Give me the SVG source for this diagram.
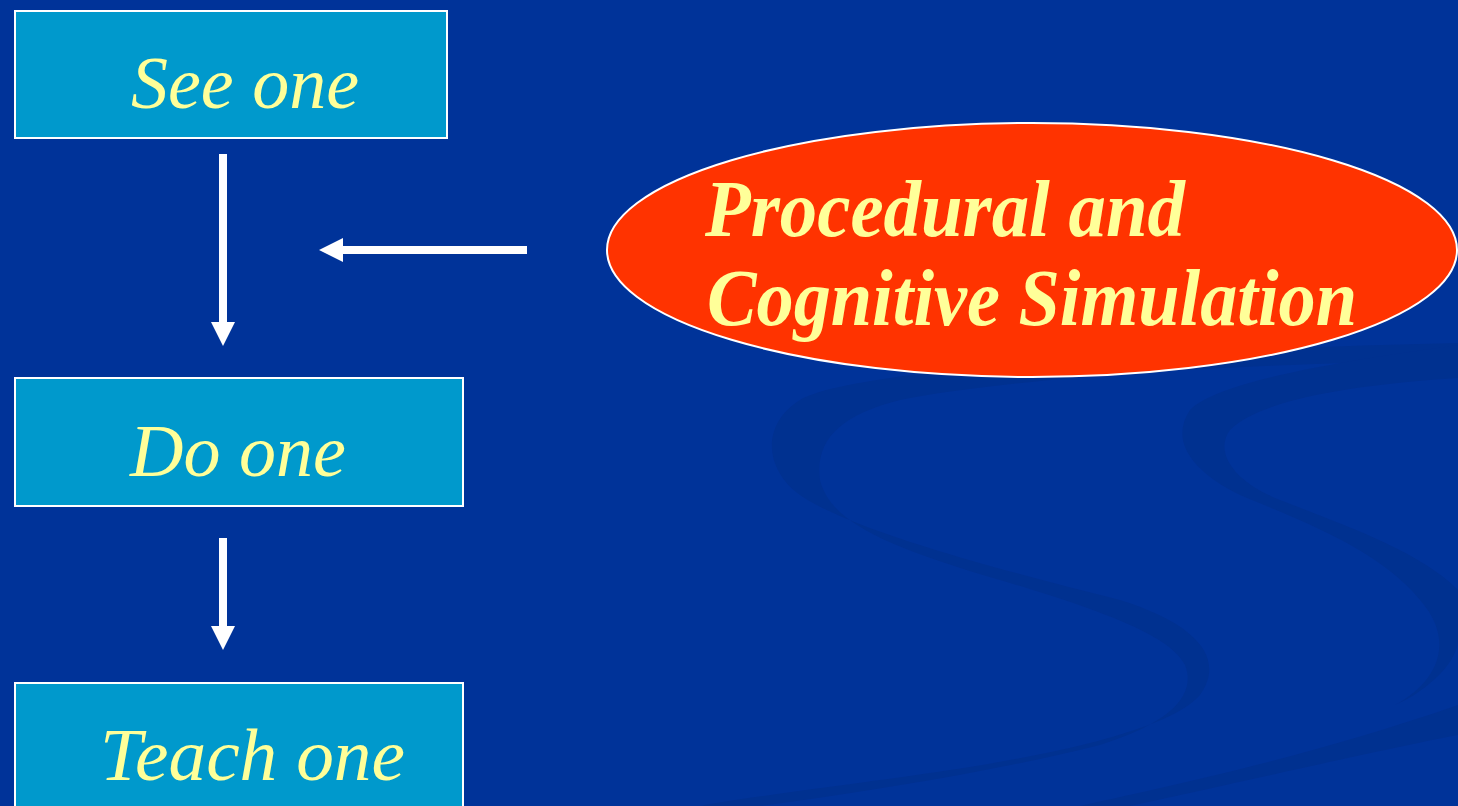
<svg xmlns="http://www.w3.org/2000/svg" width="1458" height="806" viewBox="0 0 1458 806">
<style>
.box{fill:#0099CC;stroke:#FFFFFF;stroke-width:2}
.lbl{font-family:"Liberation Serif","Times New Roman",serif;font-style:italic;font-size:74px;fill:#FFFF99}
.sim{font-family:"Liberation Serif","Times New Roman",serif;font-style:italic;font-weight:bold;font-size:80px;fill:#FFFF99}
.conn{stroke:#FFFFFF;stroke-width:8;fill:none}
.swoosh{fill:#003190}
</style>
<defs>
<marker id="head" markerUnits="userSpaceOnUse" viewBox="0 0 24 24" markerWidth="24" markerHeight="24" refX="0" refY="12" orient="auto">
<path d="M0,0 L24,12 L0,24 Z" fill="#FFFFFF"/>
</marker>
</defs>
<rect x="0" y="0" width="1458" height="806" fill="#003399"/>
<g id="background">
<path class="swoosh" d="M1458,343 C1150,350 850,370 800,400 C760,425 765,470 800,495 C850,530 1000,570 1120,600 C1200,625 1225,660 1200,695 C1170,730 1050,755 950,770 C850,785 760,795 700,806 L760,806 C880,790 1000,770 1100,745 C1180,720 1195,690 1185,665 C1170,635 1100,610 1000,580 C880,545 830,520 820,480 C815,440 840,415 900,400 C1000,380 1200,365 1458,360 Z"/>
<path class="swoosh" d="M1458,345 C1350,360 1220,380 1190,410 C1170,440 1190,470 1240,495 C1300,520 1380,550 1420,600 C1455,640 1440,680 1395,705 C1430,690 1458,660 1458,640 L1458,590 C1420,550 1330,520 1280,500 C1230,480 1215,450 1230,430 C1260,400 1350,385 1458,378 Z"/>
<path class="swoosh" d="M1458,705 C1300,760 1150,790 1080,806 L1130,806 C1250,780 1380,750 1458,735 Z"/>
</g>
<g id="connectors">
<line class="conn" x1="223" y1="154" x2="223" y2="322" marker-end="url(#head)"/>
<line class="conn" x1="223" y1="538" x2="223" y2="626" marker-end="url(#head)"/>
<line class="conn" x1="527" y1="250" x2="343" y2="250" marker-end="url(#head)"/>
</g>
<g id="see-one">
<rect class="box" x="15" y="11" width="432" height="127"/>
<text class="lbl" x="131" y="108">See one</text>
</g>
<g id="do-one">
<rect class="box" x="15" y="378" width="448" height="128"/>
<text class="lbl" x="130" y="476">Do one</text>
</g>
<g id="teach-one">
<rect class="box" x="15" y="683" width="448" height="140"/>
<text class="lbl" x="100" y="780" textLength="305" lengthAdjust="spacingAndGlyphs">Teach one</text>
</g>
<g id="simulation">
<ellipse cx="1032" cy="250" rx="425" ry="127" fill="#FF3300" stroke="#FFFFFF" stroke-width="2"/>
<text class="sim" x="705" y="236" textLength="480" lengthAdjust="spacingAndGlyphs">Procedural and</text>
<text class="sim" x="707" y="325" textLength="650" lengthAdjust="spacingAndGlyphs">Cognitive Simulation</text>
</g>
</svg>
